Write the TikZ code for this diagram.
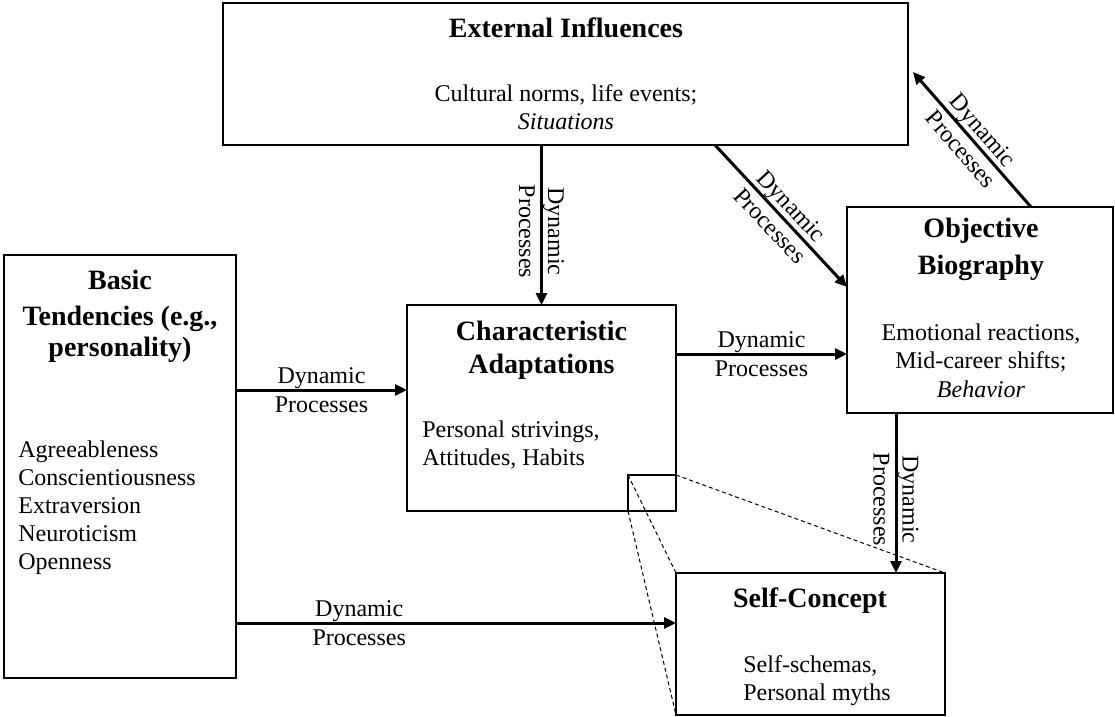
\documentclass[tikz,border=0pt]{standalone}
\usepackage{fontspec}
\setmainfont{Liberation Serif}
\usetikzlibrary{arrows.meta,calc}
\begin{document}
\begin{tikzpicture}[x=0.5pt,y=-0.5pt,
  box/.style={draw,line width=0.75pt,inner sep=0,outer sep=0,rectangle},
  arr/.style={line width=1.5pt,-{Triangle[length=6pt,width=5.5pt]}},
  dsh/.style={line width=0.5pt,dash pattern=on 2pt off 1.5pt},
  ttl/.style={inner sep=0,anchor=base,font=\fontsize{14}{17}\selectfont\bfseries},
  txt/.style={inner sep=0,anchor=base,font=\fontsize{12}{14}\selectfont},
  txtl/.style={txt,anchor=base west},
  lbl/.style={inner sep=0,align=center,font=\fontsize{12}{14.5}\selectfont}]
\useasboundingbox (0,0) rectangle (1115,717);
% boxes
\node[box,minimum width=342.5pt,minimum height=71pt] (ext) at (565.5,74) {};
\node[box,minimum width=116pt,minimum height=211.5pt] (basic) at (120,466.5) {};
\node[box,minimum width=134.5pt,minimum height=103pt] (char) at (541.5,408) {};
\node[box,minimum width=133pt,minimum height=103pt] (obj) at (980,310) {};
\node[box,minimum width=134.5pt,minimum height=71pt] (self) at (810.5,644) {};
\node[box,minimum width=24pt,minimum height=18pt] (zoom) at (652,493) {};
% dashed zoom lines
\draw[dsh] (zoom.north west) -- (self.north west);
\draw[dsh] (zoom.south west) -- (self.south west);
\draw[dsh] (zoom.north east) -- (self.north east);
% texts
\node[ttl] (et) at (566,38) {External Influences};
\node[txt] (e1) at (566,102) {Cultural norms, life events;};
\node[txt] (e2) at (566,130) {\textit{Situations}};
\node[ttl] (bt1) at (120,290) {Basic};
\node[ttl] (bt2) at (120,325) {Tendencies (e.g.,};
\node[ttl] (bt3) at (120,357) {personality)};
\node[txtl] (b1) at (18,457) {Agreeableness};
\node[txtl] (b2) at (18,485) {Conscientiousness};
\node[txtl] (b3) at (18,513) {Extraversion};
\node[txtl] (b4) at (18,541) {Neuroticism};
\node[txtl] (b5) at (18,569) {Openness};
\node[ttl] (ct1) at (541.5,340) {Characteristic};
\node[ttl] (ct2) at (541.5,373) {Adaptations};
\node[txtl] (c1) at (422,437) {Personal strivings,};
\node[txtl] (c2) at (422,465) {Attitudes, Habits};
\node[ttl] (ot1) at (981,238) {Objective};
\node[ttl] (ot2) at (981,274) {Biography};
\node[txt] (o1) at (981,340) {Emotional reactions,};
\node[txt] (o2) at (981,368) {Mid-career shifts;};
\node[txt] (o3) at (981,397) {\textit{Behavior}};
\node[ttl] (st) at (810,607) {Self-Concept};
\node[txtl] (s1) at (743,672) {Self-schemas,};
\node[txtl] (s2) at (743,700) {Personal myths};
% helper coordinates
\coordinate (y1) at (0,390);
\coordinate (y2) at (0,623);
\coordinate (y3) at (0,354);
\coordinate (y4) at (0,287);
\coordinate (x1) at (896,0);
\coordinate (x2) at (715,0);
\coordinate (x3) at (1031,0);
\coordinate (oe) at (913,72);
% connectors
\draw[arr] (basic.east |- y1) -- node[lbl]{Dynamic\\Processes} (char.west |- y1);
\draw[arr] (basic.east |- y2) -- node[lbl,pos=0.28]{Dynamic\\Processes} (self.west |- y2);
\draw[arr] (char.east |- y3) -- node[lbl]{Dynamic\\Processes} (obj.west |- y3);
\draw[arr] (ext.south -| char.north) -- node[lbl,rotate=-90,pos=0.54]{Dynamic\\Processes} (char.north);
\draw[arr] (obj.south -| x1) -- node[lbl,rotate=-90,pos=0.54]{Dynamic\\Processes} (self.north -| x1);
\draw[arr] (ext.south -| x2) -- node[lbl,rotate=-47]{Dynamic\\Processes} (obj.west |- y4);
\draw[arr] (obj.north -| x3) -- node[lbl,rotate=-49]{Dynamic\\Processes} (oe);
\end{tikzpicture}
\end{document}
